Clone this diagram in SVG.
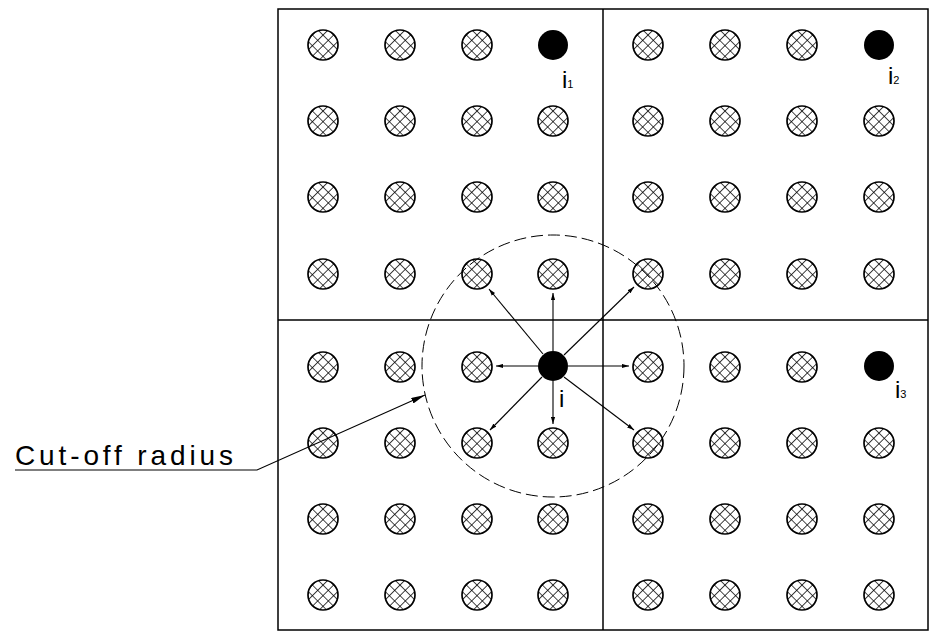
<svg xmlns="http://www.w3.org/2000/svg" width="930" height="636" viewBox="0 0 930 636">
<defs>
<pattern id="hatch" patternUnits="userSpaceOnUse" width="7.5" height="7.5" patternTransform="rotate(45)">
<path d="M0,0 H7.5 M0,0 V7.5" stroke="#000" stroke-width="1.5" fill="none"/>
</pattern>
<marker id="arr" viewBox="0 0 10 6" refX="10" refY="3" markerWidth="7" markerHeight="5" orient="auto" markerUnits="userSpaceOnUse">
<path d="M0,0 L10,3 L0,6 Z" fill="#000"/>
</marker>
<marker id="bigarr" viewBox="0 0 14 6" refX="14" refY="3" markerWidth="14" markerHeight="6" orient="auto" markerUnits="userSpaceOnUse">
<path d="M0,0 L14,3 L0,6 Z" fill="#000"/>
</marker>
<g id="hc"><circle r="15" fill="url(#hatch)" stroke="#000" stroke-width="1.7"/></g>
</defs>
<style>
.frame{fill:none;stroke:#000;stroke-width:1.5}
.div{stroke:#000;stroke-width:1.5}
.link{stroke:#000;stroke-width:1.1;fill:none}
.solid{fill:#000}
.lbl{font-family:"Liberation Sans","DejaVu Sans",sans-serif;fill:#000}
</style>
<rect width="930" height="636" fill="#fff"/>
<g id="boxes">
<rect class="frame" x="278" y="9" width="650" height="621"/>
<line class="div" x1="603" y1="9" x2="603" y2="630"/>
<line class="div" x1="278" y1="320" x2="928" y2="320"/>
</g>
<g id="cutoff">
<circle cx="553" cy="366" r="131" fill="none" stroke="#000" stroke-width="1" stroke-dasharray="12 5"/>
</g>
<g id="particles">
<use href="#hc" x="323" y="45"/><use href="#hc" x="400" y="45"/><use href="#hc" x="477" y="45"/>
<use href="#hc" x="648" y="45"/><use href="#hc" x="725" y="45"/><use href="#hc" x="802" y="45"/>
<use href="#hc" x="323" y="121"/><use href="#hc" x="400" y="121"/><use href="#hc" x="477" y="121"/><use href="#hc" x="553" y="121"/>
<use href="#hc" x="648" y="121"/><use href="#hc" x="725" y="121"/><use href="#hc" x="802" y="121"/><use href="#hc" x="879" y="121"/>
<use href="#hc" x="323" y="197"/><use href="#hc" x="400" y="197"/><use href="#hc" x="477" y="197"/><use href="#hc" x="553" y="197"/>
<use href="#hc" x="648" y="197"/><use href="#hc" x="725" y="197"/><use href="#hc" x="802" y="197"/><use href="#hc" x="879" y="197"/>
<use href="#hc" x="323" y="274"/><use href="#hc" x="400" y="274"/><use href="#hc" x="477" y="274"/><use href="#hc" x="553" y="274"/>
<use href="#hc" x="648" y="274"/><use href="#hc" x="725" y="274"/><use href="#hc" x="802" y="274"/><use href="#hc" x="879" y="274"/>
<use href="#hc" x="323" y="367"/><use href="#hc" x="400" y="367"/><use href="#hc" x="477" y="367"/>
<use href="#hc" x="648" y="367"/><use href="#hc" x="725" y="367"/><use href="#hc" x="802" y="367"/>
<use href="#hc" x="323" y="443"/><use href="#hc" x="400" y="443"/><use href="#hc" x="477" y="443"/><use href="#hc" x="553" y="443"/>
<use href="#hc" x="648" y="443"/><use href="#hc" x="725" y="443"/><use href="#hc" x="802" y="443"/><use href="#hc" x="879" y="443"/>
<use href="#hc" x="323" y="519"/><use href="#hc" x="400" y="519"/><use href="#hc" x="477" y="519"/><use href="#hc" x="553" y="519"/>
<use href="#hc" x="648" y="519"/><use href="#hc" x="725" y="519"/><use href="#hc" x="802" y="519"/><use href="#hc" x="879" y="519"/>
<use href="#hc" x="323" y="595"/><use href="#hc" x="400" y="595"/><use href="#hc" x="477" y="595"/><use href="#hc" x="553" y="595"/>
<use href="#hc" x="648" y="595"/><use href="#hc" x="725" y="595"/><use href="#hc" x="802" y="595"/><use href="#hc" x="879" y="595"/>
</g>
<g id="connectors">
<line class="link" x1="553" y1="351" x2="553" y2="293" marker-end="url(#arr)"/>
<line class="link" x1="553" y1="381" x2="553" y2="424" marker-end="url(#arr)"/>
<line class="link" x1="538" y1="366" x2="496" y2="366" marker-end="url(#arr)"/>
<line class="link" x1="568" y1="366" x2="629" y2="366" marker-end="url(#arr)"/>
<line class="link" x1="543" y1="354" x2="489" y2="289" marker-end="url(#arr)"/>
<line class="link" x1="564" y1="355" x2="634" y2="287" marker-end="url(#arr)"/>
<line class="link" x1="542" y1="377" x2="490" y2="430" marker-end="url(#arr)"/>
<line class="link" x1="564" y1="377" x2="634" y2="430" marker-end="url(#arr)"/>
<polyline class="link" points="15,470 257,470 425,395" marker-end="url(#bigarr)"/>
</g>
<g id="node-i">
<circle class="solid" cx="553" cy="366" r="15"/>
<text class="lbl" x="559" y="407" font-size="24">i</text>
</g>
<g id="node-i1">
<circle class="solid" cx="553" cy="45" r="15"/>
<text class="lbl" x="562" y="88" font-size="24">i<tspan font-size="11">1</tspan></text>
</g>
<g id="node-i2">
<circle class="solid" cx="879" cy="45" r="15"/>
<text class="lbl" x="888" y="84" font-size="24">i<tspan font-size="11">2</tspan></text>
</g>
<g id="node-i3">
<circle class="solid" cx="879" cy="366" r="15"/>
<text class="lbl" x="895" y="398" font-size="24">i<tspan font-size="11">3</tspan></text>
</g>
<g id="label-cutoff">
<text class="lbl" x="15" y="465" font-size="28" textLength="218" lengthAdjust="spacing">Cut-off radius</text>
</g>
</svg>
